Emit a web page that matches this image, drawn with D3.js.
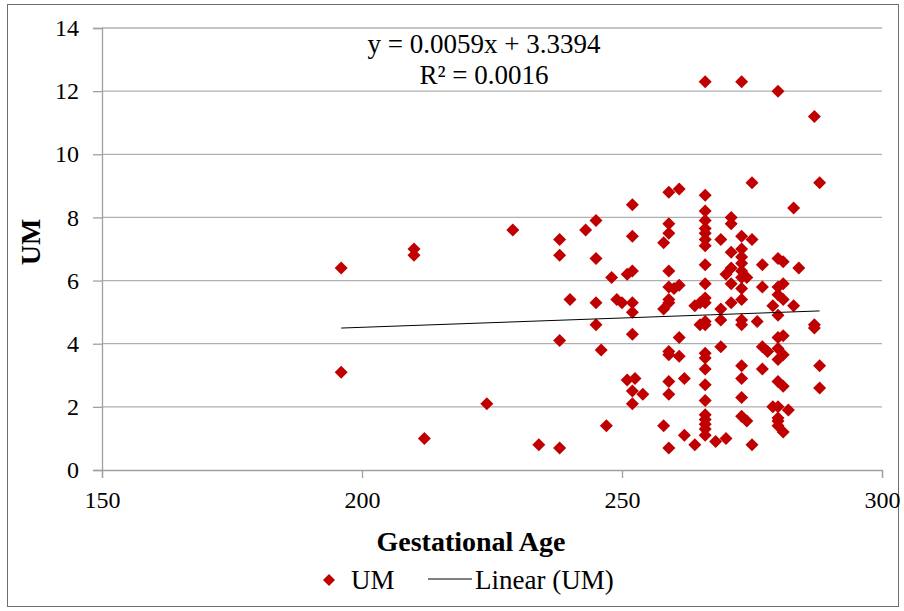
<!DOCTYPE html>
<html>
<head>
<meta charset="utf-8">
<script src="https://cdn.jsdelivr.net/npm/d3@7"></script>
<style>
  html, body { margin: 0; padding: 0; background: #fff; }
  svg { display: block; }
  text { font-family: "Liberation Serif", "Times New Roman", "DejaVu Serif", serif; fill: #000; }
</style>
</head>
<body>
<svg id="chart" width="904" height="611"></svg>
<script>
// ---- data ----
const gestationalAge = [
  196,196,210,210,212,224,229,234,238,238,238,238,240,243,245,245,245,245,246,247,248,249,250,251,251,
  252,252,252,252,252,252,252.5,252,252,254,
  258,258,258,259,259,259,259,259,259,259,259,259,259,259,259,260,261,261,261,261,262,262,264,264,265,265,
  266,266,266,266,266,266,266,266,266,266,266,266,266,266,266,266,266,266,266,266,266,266,266,266,
  268,269,269,269,269,270,270,271,271,271,271,271,271,
  273,273,273,273,273,273,273,273,273,273,273,273,273,273,273,274,274,275,275,275,276,277,277,277,277,278,279,279,
  280,280,280,280,280,280,280,280,280,280,280,280,280,281,281,281,281,281,281,281,282,283,283,284,287,287,287,288,288,288
];
const umValues = [
  6.4,3.1,7.0,6.8,1.0,2.1,7.6,0.8,7.3,6.8,4.1,0.7,5.4,7.6,7.9,6.7,5.3,4.6,3.8,1.4,6.1,5.4,5.3,6.2,2.85,
  8.4,7.4,6.3,5.3,5.0,4.3,2.9,2.5,2.1,2.4,
  7.2,5.1,1.4,8.8,7.8,7.5,6.3,5.8,5.4,5.3,3.75,3.65,2.8,2.4,0.7,5.75,8.9,5.85,4.2,3.6,2.9,1.1,5.2,0.8,5.3,4.6,
  12.3,8.7,8.2,7.9,7.65,7.5,7.3,7.1,6.5,5.9,5.45,5.3,4.7,4.6,3.7,3.55,3.2,2.7,2.2,1.75,1.6,1.45,1.3,1.1,0.9,
  5.1,7.3,4.75,3.9,1.0,6.2,5.9,8.0,7.8,6.9,6.4,5.3,4.75,
  12.3,7.4,7.0,6.75,6.55,6.3,6.1,5.75,5.4,4.6,3.3,2.9,2.3,1.7,1.55,6.1,0.8,9.1,7.3,4.7,3.2,6.5,5.8,3.9,3.75,5.2,2.0,1.65,
  12.0,6.7,5.8,5.55,4.9,4.2,3.85,3.5,2.8,2.0,1.55,1.4,1.2,6.6,5.9,5.4,4.25,3.65,2.65,1.9,5.2,8.3,6.4,4.6,11.2,4.5,2.6,9.1,3.3,0.9
];
const xTicks = [150, 200, 250, 300];
const yTicks = [0, 2, 4, 6, 8, 10, 12, 14];
const trendSlope = 0.0059;
const trendIntercept = 3.3394;
const equationLabel = "y = 0.0059x + 3.3394";
const r2Label = "R² = 0.0016";
const xTitle = "Gestational Age";
const yTitle = "UM";
const legendLabels = ["UM", "Linear (UM)"];

// ---- layout ----
const svg = d3.select("#chart");
const plot = { left: 102, right: 882, top: 28, bottom: 470 };
const red = "#C00000";
const serif = '"Liberation Serif", "Times New Roman", "DejaVu Serif", serif';

svg.append("rect").attr("x", 7.5).attr("y", 4.5).attr("width", 891).attr("height", 602)
  .attr("fill", "#fff").attr("stroke", "#6e6e6e").attr("stroke-width", 1);

const x = d3.scaleLinear().domain([150, 300]).range([plot.left, plot.right]);
const y = d3.scaleLinear().domain([0, 14]).range([plot.bottom, plot.top]);

// gridlines
svg.append("g").selectAll("line").data(yTicks.filter(d => d > 0)).join("line")
  .attr("x1", plot.left).attr("x2", plot.right)
  .attr("y1", d => y(d)).attr("y2", d => y(d))
  .attr("stroke", "#b0b0b0").attr("stroke-width", 1.3);

// y axis
const yAxis = d3.axisLeft(y).tickValues(yTicks).tickSize(9).tickPadding(14).tickFormat(d3.format("d"));
const gy = svg.append("g").attr("transform", `translate(${plot.left},0)`).call(yAxis)
  .attr("font-family", serif).attr("font-size", 24);
gy.select(".domain").attr("stroke", "#a0a0a0").attr("stroke-width", 1.3);
gy.selectAll(".tick line").attr("stroke", "#a0a0a0").attr("stroke-width", 1.3);
gy.selectAll(".tick text").attr("fill", "#000");

// x axis
const xAxis = d3.axisBottom(x).tickValues(xTicks).tickSize(8).tickPadding(13).tickFormat(d3.format("d"));
const gx = svg.append("g").attr("transform", `translate(0,${plot.bottom})`).call(xAxis)
  .attr("font-family", serif).attr("font-size", 24);
gx.select(".domain").attr("stroke", "#a0a0a0").attr("stroke-width", 1.3);
gx.selectAll(".tick line").attr("stroke", "#a0a0a0").attr("stroke-width", 1.3);
gx.selectAll(".tick text").attr("fill", "#000");

// points
const diamond = r => `M0,${-r}L${r},0L0,${r}L${-r},0Z`;
const pts = gestationalAge.map((g, i) => ({ g, u: umValues[i] }));
svg.append("g").selectAll("path").data(pts).join("path")
  .attr("d", diamond(6.5))
  .attr("transform", d => `translate(${x(d.g)},${y(d.u)})`)
  .attr("fill", red);

// trendline
const xMin = d3.min(gestationalAge), xMax = d3.max(gestationalAge);
svg.append("line")
  .attr("x1", x(xMin)).attr("y1", y(trendSlope * xMin + trendIntercept))
  .attr("x2", x(xMax)).attr("y2", y(trendSlope * xMax + trendIntercept))
  .attr("stroke", "#000").attr("stroke-width", 1);

// equation
svg.append("text").attr("x", 484).attr("y", 53).attr("text-anchor", "middle")
  .style("font-size", "27px").text(equationLabel);
svg.append("text").attr("x", 484).attr("y", 84).attr("text-anchor", "middle")
  .style("font-size", "27px").text(r2Label);

// axis titles
svg.append("text").attr("x", 471).attr("y", 551).attr("text-anchor", "middle")
  .style("font-size", "28px").style("font-weight", "bold").text(xTitle);
svg.append("text").attr("transform", "translate(40,242) rotate(-90)").attr("text-anchor", "middle")
  .style("font-size", "28px").style("font-weight", "bold").text(yTitle);

// legend
const lg = svg.append("g");
lg.append("path").attr("d", diamond(6)).attr("transform", "translate(329,580)").attr("fill", red);
lg.append("text").attr("x", 351).attr("y", 589).style("font-size", "27px").text(legendLabels[0]);
lg.append("line").attr("x1", 428).attr("x2", 472).attr("y1", 579).attr("y2", 579).attr("stroke", "#000").attr("stroke-width", 1);
lg.append("text").attr("x", 475).attr("y", 589).style("font-size", "27px").text(legendLabels[1]);
</script>
</body>
</html>
